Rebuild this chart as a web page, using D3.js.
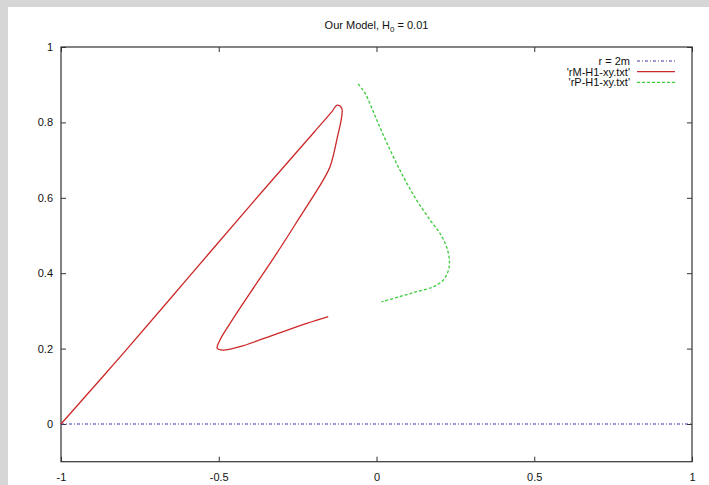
<!DOCTYPE html>
<meta charset="utf-8">
<style>
body { margin: 0; background: #d6d6d6; }
svg { display: block; font-family: "Liberation Sans", Arial, sans-serif; }
.tick text { font-size: 11px; fill: #111; }
</style>
<body>
<script src="https://d3js.org/d3.v7.min.js"></script>
<script>

// tick labels
var xTicks = [-1, -0.5, 0, 0.5, 1];
var yTicks = [0, 0.2, 0.4, 0.6, 0.8, 1];

// r = 2m line
var horizonX = [-1, 1];
var horizonY = [0, 0];

// 'rM-H1-xy.txt'
var rMx = [-1, -0.8, -0.6, -0.4, -0.2, -0.14, -0.125, -0.11, -0.126, -0.147, -0.169, -0.242, -0.316, -0.401, -0.464, -0.496, -0.505, -0.486, -0.433, -0.327, -0.221, -0.153];
var rMy = [0, 0.19, 0.385, 0.58, 0.772, 0.83, 0.846, 0.837, 0.753, 0.683, 0.647, 0.550, 0.453, 0.347, 0.267, 0.223, 0.201, 0.196, 0.205, 0.236, 0.267, 0.285];

// 'rP-H1-xy.txt'
var rPx = [-0.058, -0.036, 0.001, 0.043, 0.085, 0.127, 0.170, 0.201, 0.222, 0.231, 0.228, 0.212, 0.180, 0.127, 0.074, 0.016];
var rPy = [0.902, 0.877, 0.806, 0.727, 0.656, 0.594, 0.541, 0.506, 0.470, 0.435, 0.408, 0.382, 0.364, 0.351, 0.338, 0.324];

var W = 709, H = 485;
var plotL = 61, plotR = 692, plotT = 47, plotB = 461.7;

var svg = d3.select("body").append("svg")
    .attr("width", W)
    .attr("height", H);

// white panel inside the grey border
svg.append("rect")
    .attr("x", 8).attr("y", 7)
    .attr("width", W - 8).attr("height", H - 7)
    .attr("fill", "#fff");

var x = d3.scaleLinear().domain([-1, 1]).range([plotL, plotR]);
var y = d3.scaleLinear().domain([-0.1, 1]).range([plotB, plotT]);

// axes with inward ticks
svg.append("g")
    .attr("transform", "translate(0," + plotB + ")")
    .call(d3.axisBottom(x).tickValues(xTicks).tickSizeInner(-5).tickSizeOuter(0).tickPadding(12)
      .tickFormat(function(d) { return d; }))
    .call(function(g) { g.select(".domain").remove(); });

svg.append("g")
    .attr("transform", "translate(" + plotL + ",0)")
    .call(d3.axisLeft(y).tickValues(yTicks).tickSizeInner(-5).tickSizeOuter(0).tickPadding(8)
      .tickFormat(function(d) { return d; }))
    .call(function(g) { g.select(".domain").remove(); });

// mirror ticks
svg.append("g")
    .attr("transform", "translate(0," + plotT + ")")
    .call(d3.axisTop(x).tickValues(xTicks).tickSizeInner(-5).tickSizeOuter(0).tickFormat(""))
    .call(function(g) { g.select(".domain").remove(); });
svg.append("g")
    .attr("transform", "translate(" + plotR + ",0)")
    .call(d3.axisRight(y).tickValues(yTicks).tickSizeInner(-5).tickSizeOuter(0).tickFormat(""))
    .call(function(g) { g.select(".domain").remove(); });

svg.selectAll(".tick line").attr("stroke", "#333");

// frame
svg.append("rect")
    .attr("x", plotL).attr("y", plotT)
    .attr("width", plotR - plotL).attr("height", plotB - plotT)
    .attr("fill", "none")
    .attr("stroke", "#333")
    .attr("stroke-width", 1.2);

// title
var title = svg.append("text")
    .attr("x", (plotL + plotR) / 2)
    .attr("y", 29)
    .attr("text-anchor", "middle")
    .attr("font-size", 11)
    .attr("fill", "#111");
title.append("tspan").text("Our Model, H");
title.append("tspan").attr("font-size", 8).attr("dy", 3).text("0");
title.append("tspan").attr("dy", -3).text(" = 0.01");

var line = d3.line()
    .x(function(d) { return x(d[0]); })
    .y(function(d) { return y(d[1]); });

var series = [
  { name: "r = 2m", xs: horizonX, ys: horizonY, color: "#3a3aa8", dash: "3,2,1,2", width: 1.2 },
  { name: "'rM-H1-xy.txt'", xs: rMx, ys: rMy, color: "#cc2828", dash: null, width: 1.3 },
  { name: "'rP-H1-xy.txt'", xs: rPx, ys: rPy, color: "#3ccc3c", dash: "3,2", width: 1.3 }
];

series.forEach(function(s, i) {
  var pts = s.xs.map(function(v, j) { return [v, s.ys[j]]; });
  svg.append("path")
      .datum(pts)
      .attr("d", line.curve(i === 0 ? d3.curveLinear : d3.curveCatmullRom))
      .attr("fill", "none")
      .attr("stroke", s.color)
      .attr("stroke-width", s.width)
      .attr("stroke-dasharray", s.dash);

  // legend
  var ly = 61 + i * 10.7;
  svg.append("text")
      .attr("x", 630).attr("y", ly + 4)
      .attr("text-anchor", "end")
      .attr("font-size", 11)
      .attr("fill", "#111")
      .text(s.name);
  svg.append("line")
      .attr("x1", 637).attr("x2", 675)
      .attr("y1", ly).attr("y2", ly)
      .attr("stroke", s.color)
      .attr("stroke-width", s.width)
      .attr("stroke-dasharray", s.dash);
});

</script>
</body>
